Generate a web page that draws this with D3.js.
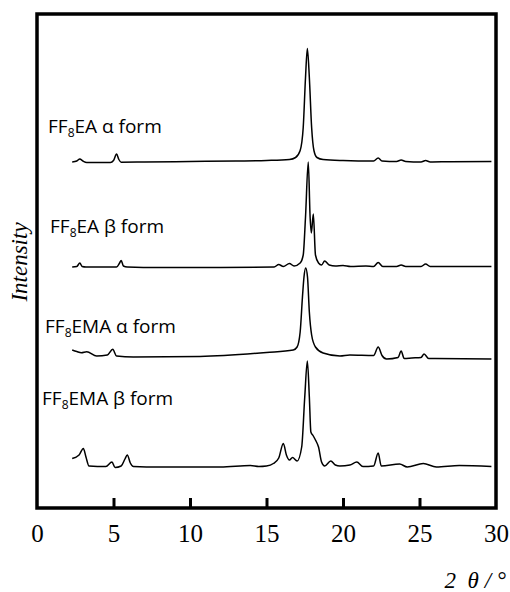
<!DOCTYPE html>
<html><head><meta charset="utf-8">
<script src="https://cdn.jsdelivr.net/npm/d3@7"></script>
<style>html,body{margin:0;padding:0;background:#fff;}</style>
</head><body>
<svg id="chart" width="510" height="592"></svg>
<script>
// ---- data (2θ in degrees, intensity in arbitrary units above each trace's baseline) ----
const xTicks = [0, 5, 10, 15, 20, 25, 30];
const seriesNames = ["FF8EA α form", "FF8EA β form", "FF8EMA α form", "FF8EMA β form"];
const seriesOffsets = [345.5, 241, 151, 41];

const ff8eaAlpha = [
  [2.3,0.5],[2.6,1.5],[2.8,3.5],[3.0,1.5],[3.25,0],[4.0,0],[4.8,0],[5.0,2],[5.2,8.5],[5.35,3],[5.5,0.3],
  [7,0.5],[10,1],[13,1.5],[15,2],[16.5,3],[16.9,5],[17.2,12],[17.4,35],[17.55,85],[17.67,114],[17.8,85],
  [17.95,35],[18.1,12],[18.3,5],[18.7,3],[20,2],[22,1.5],[22.3,4.5],[22.55,1.5],[23.5,1],[23.8,2.5],[24.1,1],
  [25.1,0.5],[25.4,2],[25.7,0.5],[27,0.8],[29.7,1]
];
const ff8eaBeta = [
  [2.3,0],[2.6,0.5],[2.8,4],[2.95,0.5],[3.2,0],[5.2,0],[5.4,4],[5.5,6.5],[5.65,1],[5.9,0],[8,-0.5],[12,-0.5],
  [15.5,0],[15.8,2.5],[16.1,0.5],[16.5,3.5],[16.8,1],[17.2,4],[17.4,12],[17.55,50],[17.73,105],[17.85,50],
  [17.93,34],[18.06,53],[18.2,12],[18.4,4],[18.6,2],[18.8,6],[19.1,2],[19.5,1],[20,1.5],[20.5,0.5],[21.5,1],
  [22.0,0.5],[22.3,4.5],[22.6,0.5],[23.5,0.5],[23.8,2],[24.1,0.5],[25.1,0.5],[25.4,3],[25.7,0.5],[29.7,0.5]
];
const ff8emaAlpha = [
  [2.3,7],[2.6,5.5],[2.9,4.3],[3.25,5.3],[3.9,1],[4.6,2],[4.95,7.7],[5.2,1],[6.3,0],[10.65,0.5],[15,4.5],
  [16.75,7],[17.0,10],[17.2,25],[17.35,60],[17.45,80],[17.56,89],[17.68,80],[17.8,45],[17.95,22],[18.2,10],
  [18.7,4],[19.8,1],[20.45,2],[22.0,1.5],[22.3,10],[22.55,1.5],[22.85,-2],[23.6,-0.5],[23.8,6],[24.0,-1.5],
  [24.5,-1],[25.1,-0.5],[25.3,3],[25.6,-1.5],[26,-1.5],[29.7,-2]
];
const ff8emaBeta = [
  [2.3,8.5],[2.75,12],[3.03,18.5],[3.2,10],[3.4,1],[4.5,0.5],[4.9,5],[5.1,-0.5],[5.5,1],[5.75,8],[5.9,12],
  [6.1,4],[6.3,0.5],[8,0],[12,0],[13.95,1.5],[14.5,0.5],[15,1],[15.45,3.5],[15.8,9],[16.1,23.5],[16.3,12],
  [16.5,7],[16.7,9.5],[17.0,6],[17.3,20],[17.5,70],[17.67,106],[17.8,70],[17.9,35],[18.06,31],[18.2,27],
  [18.4,20],[18.6,5],[18.8,1],[19.2,6],[19.5,2],[19.8,1],[20.45,2],[20.9,5],[21.3,0.5],[22.0,1],[22.3,14],
  [22.5,1],[23.7,3],[24.2,0],[25.25,3.5],[26.1,0],[27.6,1.5],[29.7,0.5]
];
const seriesData = [ff8eaAlpha, ff8eaBeta, ff8emaAlpha, ff8emaBeta];

// ---- layout ----
const svg = d3.select("#chart");
const mLeft = 37, mRight = 496, mTop = 14, mBottom = 508;
const x = d3.scaleLinear().domain([0, 30]).range([mLeft, mRight]);
const y = d3.scaleLinear().domain([0, 494]).range([mBottom, mTop]);

// traces
const line = d3.line().x(d => x(d[0])).y(d => y(d[1])).curve(d3.curveMonotoneX);
seriesData.forEach((s, i) => {
  svg.append("path")
    .datum(s.map(p => [p[0], p[1] + seriesOffsets[i]]))
    .attr("d", line)
    .attr("fill", "none")
    .attr("stroke", "#000")
    .attr("stroke-width", 1.5)
    .attr("stroke-linejoin", "round");
});

// frame
svg.append("rect").attr("x", mLeft).attr("y", mTop)
  .attr("width", mRight - mLeft).attr("height", mBottom - mTop)
  .attr("fill", "none").attr("stroke", "#000").attr("stroke-width", 3.5);

// x axis: inner ticks + labels
const xAxis = d3.axisBottom(x).tickValues(xTicks).tickSize(-10).tickPadding(16).tickFormat(d3.format("d"));
const gx = svg.append("g").attr("transform", `translate(0,${mBottom})`).call(xAxis);
gx.select(".domain").remove();
gx.selectAll(".tick line").attr("stroke", "#000").attr("stroke-width", 3)
  .filter(d => d === 0 || d === 30).remove();
gx.selectAll(".tick text").attr("fill", "#000")
  .attr("font-family", "'Liberation Serif', 'Times New Roman', serif").attr("font-size", 25);

// series labels
const labelPos = [[48, 133], [50, 233], [45, 333], [42, 405]];
seriesNames.forEach((name, i) => {
  const t = svg.append("text").attr("x", labelPos[i][0]).attr("y", labelPos[i][1])
    .attr("font-family", "'Open Sans', 'Noto Sans', sans-serif").attr("font-size", 19).attr("fill", "#000");
  const rest = name.slice(3);
  t.append("tspan").text("FF");
  t.append("tspan").attr("font-size", 12).attr("dy", 4).text("8");
  t.append("tspan").attr("dy", -4).text(rest);
});

// y label
svg.append("text").attr("transform", "translate(27,262) rotate(-90)")
  .attr("text-anchor", "middle")
  .attr("font-family", "'Liberation Serif', 'Times New Roman', serif")
  .attr("font-style", "italic").attr("font-size", 23).text("Intensity");

// x label
svg.append("text").attr("x", 506).attr("y", 588).attr("text-anchor", "end")
  .attr("font-family", "'Liberation Serif', 'Times New Roman', serif")
  .attr("font-style", "italic").attr("font-size", 23).attr("xml:space", "preserve").text("2  θ / °");
</script>
</body></html>
